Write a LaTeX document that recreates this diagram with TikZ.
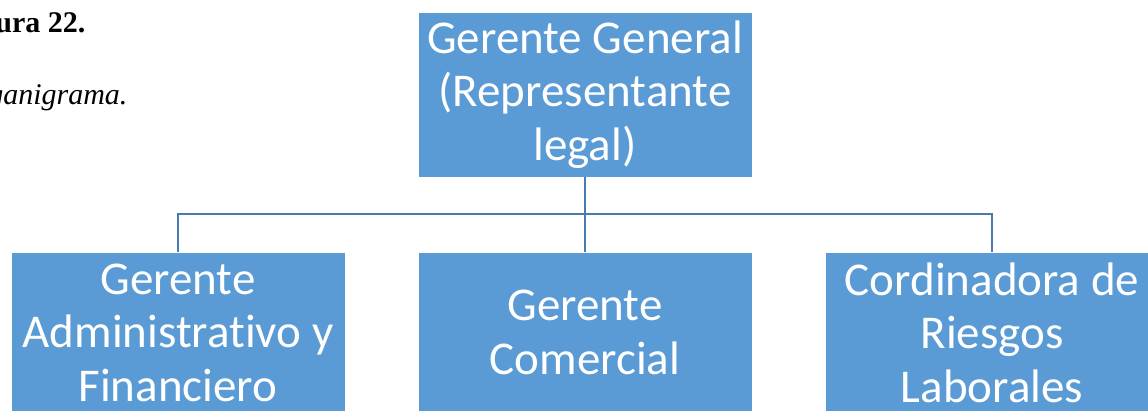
\documentclass[tikz,border=0pt]{standalone}
\usepackage{fontspec}
\setmainfont{Liberation Serif}
\newfontfamily\boxfont[Ligatures=NoCommon]{Carlito}
\definecolor{boxblue}{HTML}{5B9BD5}
\definecolor{linkblue}{HTML}{4A7BAF}
\begin{document}
\begin{tikzpicture}[x=1pt,y=-1pt,
  orgbox/.style={fill=boxblue,draw=white,line width=0.6pt,minimum width=334pt,minimum height=165pt,
    align=center,text=white,inner sep=0pt,
    font=\boxfont\fontsize{47}{53.5}\selectfont},
  lowbox/.style={orgbox,minimum height=161pt},
  link/.style={draw=linkblue,line width=2.8pt}]
\useasboundingbox (0,0) rectangle (1148,411);
\node[font=\bfseries\fontsize{30}{36}\selectfont,anchor=base east] (fig) at (89,33) {Figura 22.};
\node[font=\itshape\fontsize{30}{36}\selectfont,anchor=base east] (title) at (131,105) {Organigrama.};
\node[orgbox] (top) at (585,94.5) {Gerente General\\(Representante\\legal)};
\node[lowbox] (adm) at (178,332.5) {Gerente\\Administrativo y\\Financiero};
\node[lowbox] (com) at (585,332.5) {Gerente\\Comercial};
\node[lowbox] (rie) at (992,332.5) {Cordinadora de\\Riesgos\\Laborales};
\coordinate (bus) at (585,214);
\draw[link] (top.south) -- (bus);
\draw[link] (bus) -| (adm.north);
\draw[link] (bus) -| (rie.north);
\draw[link] (bus) -- (com.north);
\end{tikzpicture}
\end{document}
